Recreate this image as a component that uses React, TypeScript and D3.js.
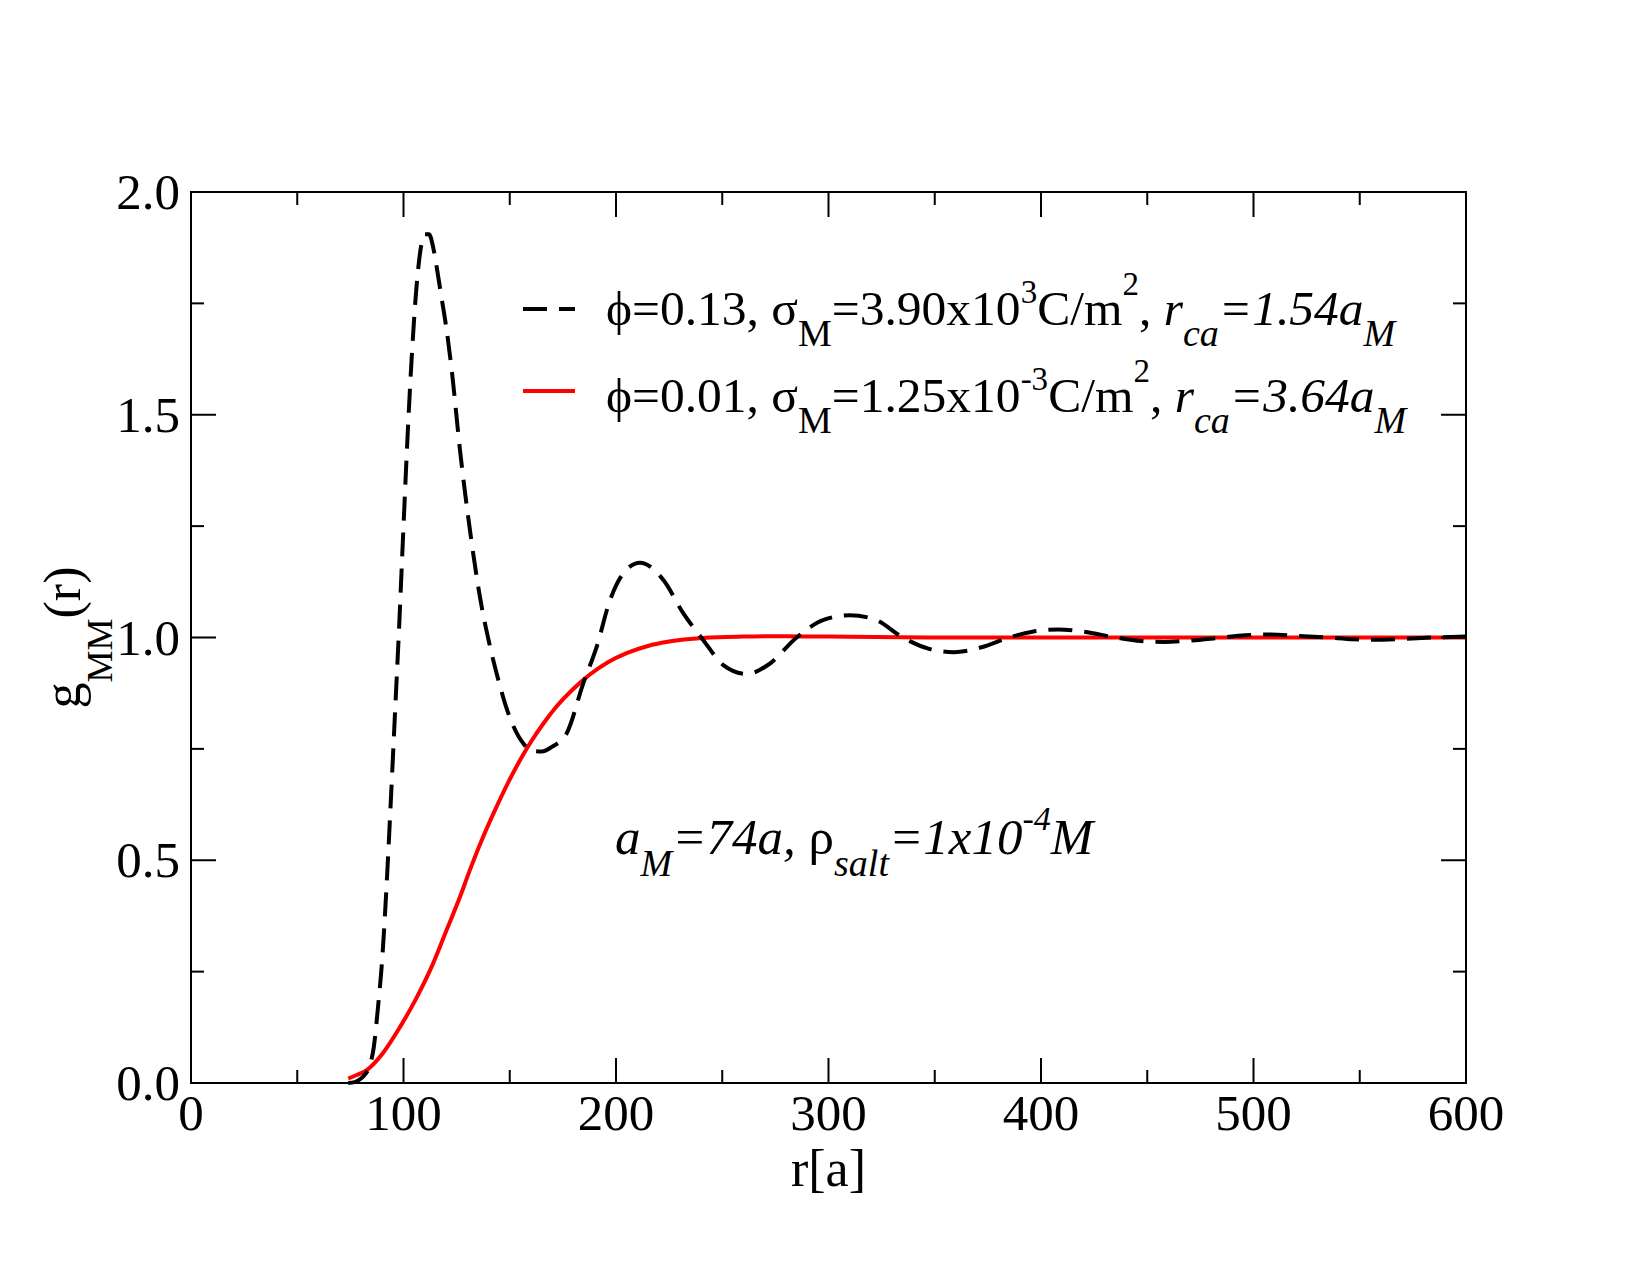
import * as d3 from "d3";

// g_MM(r) for phi = 0.13 (dashed black)
const rDense = [74, 77, 80, 82, 84, 86, 88, 90, 92, 94, 96, 98, 100, 102, 104, 106, 108, 110, 112, 114, 116, 118, 120, 122.7, 126.6, 131.3, 136, 140.7, 143.8, 149.3, 156.4, 161, 165, 170, 176.8, 184.6, 190.9, 197.2, 203.4, 211.3, 222.3, 231.7, 241.1, 250.5, 261.5, 272, 285, 298, 310, 322, 335, 347, 359, 372, 385, 396, 408, 420, 435, 447, 458, 470, 485, 496, 507, 520, 535, 547, 557, 570, 585, 600];
const gDense = [0, 0.002, 0.01, 0.02, 0.037, 0.08, 0.17, 0.28, 0.44, 0.63, 0.83, 1.03, 1.25, 1.46, 1.64, 1.78, 1.87, 1.905, 1.905, 1.875, 1.82, 1.76, 1.70, 1.60, 1.42, 1.24, 1.09, 0.98, 0.92, 0.83, 0.762, 0.745, 0.744, 0.755, 0.785, 0.897, 0.979, 1.084, 1.144, 1.168, 1.129, 1.054, 0.994, 0.938, 0.918, 0.94, 1.0, 1.04, 1.05, 1.04, 1.0, 0.975, 0.967, 0.978, 1.0, 1.013, 1.018, 1.013, 1.0, 0.992, 0.99, 0.993, 1.0, 1.005, 1.007, 1.004, 1.0, 0.996, 0.995, 0.997, 1.0, 1.002];

// g_MM(r) for phi = 0.01 (solid red)
const rDilute = [74, 78, 82.7, 90, 98.4, 106, 114, 120, 126.6, 131, 136.8, 143, 149.3, 155, 160, 166, 172, 180, 188, 196, 205, 215, 225, 241, 260, 280, 300, 350, 400, 500, 600];
const gDilute = [0.01, 0.018, 0.029, 0.065, 0.126, 0.19, 0.269, 0.34, 0.418, 0.475, 0.545, 0.612, 0.675, 0.726, 0.766, 0.808, 0.845, 0.885, 0.918, 0.944, 0.965, 0.981, 0.991, 0.999, 1.002, 1.003, 1.002, 1.0, 1.0, 1.0, 1.0];

const xMajor = [0, 100, 200, 300, 400, 500, 600];
const xMinor = [50, 150, 250, 350, 450, 550];
const yMajor = [0, 0.5, 1.0, 1.5, 2.0];
const yMinor = [0.25, 0.75, 1.25, 1.75];

type Run = { t: string; s?: number; dy?: number; i?: boolean };

const legend1: Run[] = [
  { t: "\u03D5=0.13, \u03C3" }, { t: "M", s: 38, dy: 21 }, { t: "=3.90x10" }, { t: "3", s: 33, dy: -22 },
  { t: "C/m" }, { t: "2", s: 33, dy: -30 }, { t: ", " }, { t: "r", i: true }, { t: "ca", s: 38, dy: 21, i: true },
  { t: "=1.54a", i: true }, { t: "M", s: 38, dy: 21, i: true },
];
const legend2: Run[] = [
  { t: "\u03D5=0.01, \u03C3" }, { t: "M", s: 38, dy: 21 }, { t: "=1.25x10" }, { t: "-3", s: 33, dy: -22 },
  { t: "C/m" }, { t: "2", s: 33, dy: -30 }, { t: ", " }, { t: "r", i: true }, { t: "ca", s: 38, dy: 21, i: true },
  { t: "=3.64a", i: true }, { t: "M", s: 38, dy: 21, i: true },
];
const note: Run[] = [
  { t: "a", i: true }, { t: "M", s: 38, dy: 22, i: true }, { t: "=74a, ", i: true }, { t: "\u03C1" },
  { t: "salt", s: 38, dy: 22, i: true }, { t: "=1x10", i: true }, { t: "-4", s: 34, dy: -24, i: true }, { t: "M", i: true },
];
const yLabel: Run[] = [{ t: "g" }, { t: "MM", s: 36, dy: 32 }, { t: "(r)" }];

const Rich = ({ runs, x, y, size, anchor = "start", transform }: { runs: Run[]; x: number; y: number; size: number; anchor?: string; transform?: string }) => {
  let prev = 0;
  return (
    <text x={x} y={y} fontSize={size} textAnchor={anchor} transform={transform} style={{ whiteSpace: "pre" }}>
      {runs.map((r, k) => {
        const off = r.dy ?? 0;
        const d = off - prev;
        prev = off;
        return (
          <tspan key={k} dy={d} fontSize={r.s ?? size} fontStyle={r.i ? "italic" : "normal"}>
            {r.t}
          </tspan>
        );
      })}
    </text>
  );
};

export default function App() {
  const width = 1650;
  const height = 1275;
  const left = 191, right = 1466, top = 192, bottom = 1083;

  const x = d3.scaleLinear().domain([0, 600]).range([left, right]);
  const y = d3.scaleLinear().domain([0, 2]).range([bottom, top]);

  const line = d3.line<[number, number]>()
    .x((d) => x(d[0]))
    .y((d) => y(d[1]))
    .curve(d3.curveMonotoneX);

  const densePath = line(rDense.map((r, k) => [r, gDense[k]] as [number, number])) || "";
  const dilutePath = line(rDilute.map((r, k) => [r, gDilute[k]] as [number, number])) || "";

  const major = 25, minor = 13;

  return (
    <svg width={width} height={height} style={{ position: "absolute", left: 0, top: 0, display: "block", background: "#fff" }}
      fontFamily="'Liberation Serif', 'Times New Roman', serif">
      <rect x={0} y={0} width={width} height={height} fill="#fff" />

      {/* curves */}
      <path d={dilutePath} fill="none" stroke="#ff0000" strokeWidth={4} />
      <path d={densePath} fill="none" stroke="#000" strokeWidth={4} strokeDasharray="24 12" />

      {/* frame */}
      <rect x={left} y={top} width={right - left} height={bottom - top} fill="none" stroke="#000" strokeWidth={2} />

      {/* ticks */}
      <g stroke="#000" strokeWidth={2}>
        {xMajor.map((v) => (
          <g key={"xM" + v}>
            <line x1={x(v)} x2={x(v)} y1={bottom} y2={bottom - major} />
            <line x1={x(v)} x2={x(v)} y1={top} y2={top + major} />
          </g>
        ))}
        {xMinor.map((v) => (
          <g key={"xm" + v}>
            <line x1={x(v)} x2={x(v)} y1={bottom} y2={bottom - minor} />
            <line x1={x(v)} x2={x(v)} y1={top} y2={top + minor} />
          </g>
        ))}
        {yMajor.map((v) => (
          <g key={"yM" + v}>
            <line x1={left} x2={left + major} y1={y(v)} y2={y(v)} />
            <line x1={right} x2={right - major} y1={y(v)} y2={y(v)} />
          </g>
        ))}
        {yMinor.map((v) => (
          <g key={"ym" + v}>
            <line x1={left} x2={left + minor} y1={y(v)} y2={y(v)} />
            <line x1={right} x2={right - minor} y1={y(v)} y2={y(v)} />
          </g>
        ))}
      </g>

      {/* tick labels */}
      <g fontSize={51} fill="#000">
        {xMajor.map((v) => (
          <text key={"xl" + v} x={x(v)} y={1130} textAnchor="middle">{v}</text>
        ))}
        {yMajor.map((v) => (
          <text key={"yl" + v} x={180} y={y(v) + 17} textAnchor="end">{v.toFixed(1)}</text>
        ))}
      </g>

      {/* axis labels */}
      <text x={(left + right) / 2} y={1186} fontSize={52} textAnchor="middle">r[a]</text>
      <Rich runs={yLabel} x={0} y={0} size={52} anchor="middle" transform={`translate(80, ${(top + bottom) / 2}) rotate(-90)`} />

      {/* legend */}
      <line x1={523} x2={575} y1={309} y2={309} stroke="#000" strokeWidth={4} strokeDasharray="24 12" />
      <Rich runs={legend1} x={606} y={325} size={49.5} />
      <line x1={523} x2={575} y1={391} y2={391} stroke="#ff0000" strokeWidth={4} />
      <Rich runs={legend2} x={606} y={412} size={49.5} />

      {/* annotation */}
      <Rich runs={note} x={615} y={854} size={51} />
    </svg>
  );
}
